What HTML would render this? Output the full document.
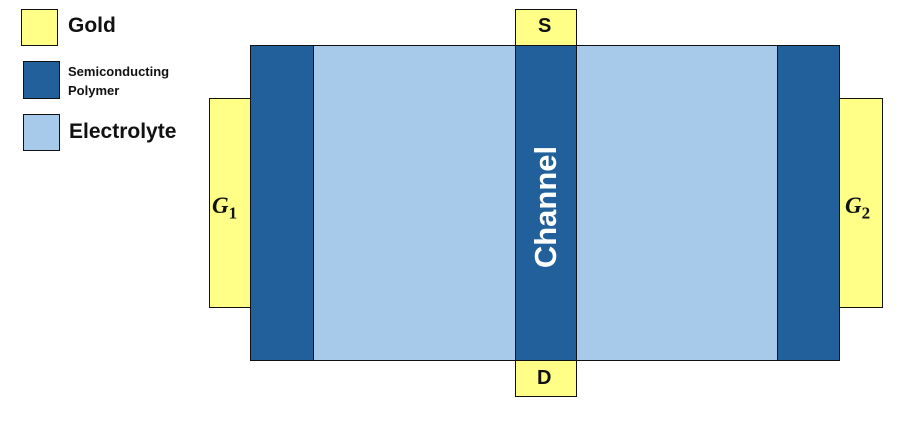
<!DOCTYPE html>
<html><head><style>
body{margin:0;width:908px;height:438px;background:#fff;position:relative;overflow:hidden;font-family:"Liberation Sans",sans-serif}
.b{position:absolute;box-sizing:border-box;border:1.5px solid #111}
.g{background:#FFFF88}.d{background:#21609B}.l{background:#A7C9EA}
.t{position:absolute;font-weight:bold;color:#111}
.m{position:absolute;font-family:"Liberation Serif",serif;font-style:italic;font-weight:bold;font-size:23px;color:#111}
.m sub{font-style:normal;font-size:17px}
</style></head><body>
<div class="b g" style="left:21px;top:9px;width:37px;height:37px"></div>
<div class="t" style="left:68px;top:14px;font-size:21px">Gold</div>
<div class="b d" style="left:23px;top:61px;width:37px;height:38px"></div>
<div class="t" style="left:68px;top:62px;font-size:13px;line-height:19px">Semiconducting<br>Polymer</div>
<div class="b l" style="left:23px;top:114px;width:37px;height:37px"></div>
<div class="t" style="left:69px;top:120px;font-size:21px">Electrolyte</div>

<div class="b g" style="left:209px;top:98px;width:42px;height:210px"></div>
<div class="b g" style="left:839px;top:98px;width:44px;height:210px"></div>
<div class="b g" style="left:515px;top:9px;width:62px;height:37px"></div>
<div class="b g" style="left:515px;top:359px;width:62px;height:38px"></div>
<div class="b d" style="left:250px;top:45px;width:65px;height:316px"></div>
<div class="b l" style="left:313px;top:45px;width:203px;height:316px"></div>
<div class="b d" style="left:515px;top:45px;width:62px;height:316px"></div>
<div class="b l" style="left:576px;top:45px;width:203px;height:316px"></div>
<div class="b d" style="left:777px;top:45px;width:63px;height:316px"></div>

<div class="t" style="left:538px;top:15px;font-size:20px">S</div>
<div class="t" style="left:537px;top:367px;font-size:20px">D</div>
<div class="t" style="left:546px;top:207px;font-size:31px;color:#fff;transform:translate(-50%,-50%) rotate(-90deg);white-space:nowrap">Channel</div>
<div class="m" style="left:212px;top:193px">G<sub>1</sub></div>
<div class="m" style="left:845px;top:193px">G<sub>2</sub></div>
</body></html>
